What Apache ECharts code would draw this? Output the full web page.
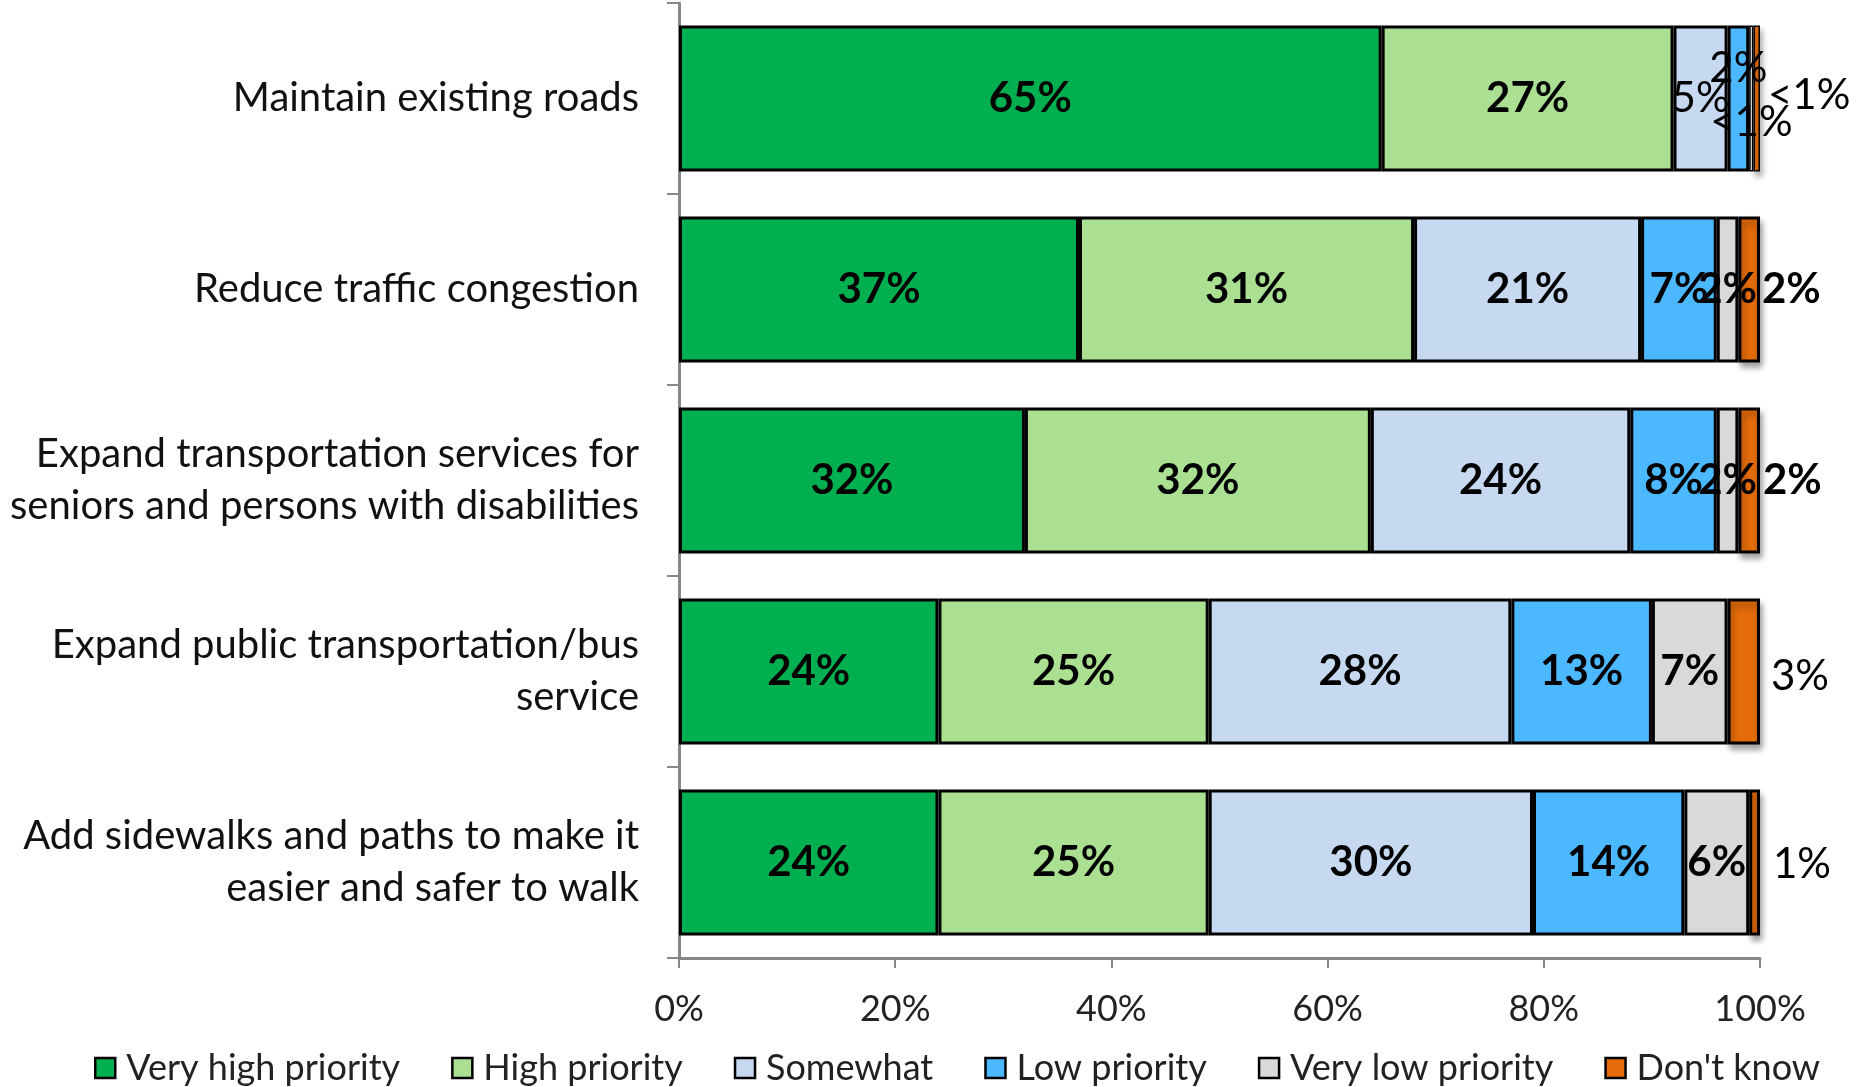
<!DOCTYPE html>
<html>
<head>
<meta charset="utf-8">
<script src="https://cdn.jsdelivr.net/npm/echarts@6/dist/echarts.min.js"></script>
<style>
html,body{margin:0;padding:0;background:#fff;}
#chart{width:1867px;height:1087px;}
</style>
</head>
<body>
<div id="chart"></div>
<script>
// ---- data ----
const categories = [
  'Maintain existing roads',
  'Reduce traffic congestion',
  'Expand transportation services for\nseniors and persons with disabilities',
  'Expand public transportation/bus\nservice',
  'Add sidewalks and paths to make it\neasier and safer to walk'
];
const seriesNames = ['Very high priority', 'High priority', 'Somewhat', 'Low priority', 'Very low priority', "Don't know"];
const veryHigh = [65, 37, 32, 24, 24];
const high     = [27, 31, 32, 25, 25];
const somewhat = [5, 21, 24, 28, 30];
const low      = [2, 7, 8, 13, 14];
const veryLow  = [0.4, 2, 2, 7, 6];
const dontKnow = [0.6, 2, 2, 3, 1];
const veryHighLabels = ['65%', '37%', '32%', '24%', '24%'];
const highLabels     = ['27%', '31%', '32%', '25%', '25%'];
const somewhatLabels = ['5%', '21%', '24%', '28%', '30%'];
const lowLabels      = ['2%', '7%', '8%', '13%', '14%'];
const veryLowLabels  = ['<1%', '2%', '2%', '7%', '6%'];
const dontKnowLabels = ['<1%', '2%', '2%', '3%', '1%'];
const xTicks = [0, 20, 40, 60, 80, 100];

// ---- styles ----
const colors = ['#00B050', '#ABE092', '#C6D9F1', '#4BB8FF', '#D9D9D9', '#E46C0A'];
const FONT = 'Lato';
const labelOverrides = {
  2: {0: {fontWeight: 'normal'}},
  3: {0: {fontWeight: 'normal', offset: [0, -30]}},
  4: {0: {fontWeight: 'normal', offset: [0, 24]}},
  5: {0: {fontWeight: 'normal', offset: [0, -3], distance: 8},
      1: {fontWeight: 'bold', distance: 2},
      2: {fontWeight: 'bold', distance: 3},
      3: {fontWeight: 'normal', distance: 11, offset: [0, 5]},
      4: {fontWeight: 'normal', distance: 13, offset: [0, 2]}}
};
const itemOverrides = {
  4: {0: {borderWidth: 1.5}},
  5: {0: {borderWidth: 1.5}}
};

const values = [veryHigh, high, somewhat, low, veryLow, dontKnow];
const labelTexts = [veryHighLabels, highLabels, somewhatLabels, lowLabels, veryLowLabels, dontKnowLabels];

const series = seriesNames.map((name, si) => {
  const isLast = si === seriesNames.length - 1;
  return {
    name: name,
    type: 'bar',
    stack: 'total',
    barCategoryGap: '23.5%',
    itemStyle: Object.assign({color: colors[si], borderColor: '#000', borderWidth: 3},
      isLast ? {shadowColor: 'rgba(0,0,0,0.35)', shadowBlur: 6, shadowOffsetX: 2, shadowOffsetY: 5} : {}),
    label: {
      show: true,
      position: isLast ? 'right' : 'inside',
      color: '#000',
      fontFamily: FONT,
      fontSize: 42,
      fontWeight: isLast ? 'normal' : 'bold',
      formatter: p => labelTexts[si][p.dataIndex]
    },
    emphasis: {disabled: true},
    data: values[si].map((v, i) => {
      const item = {value: v};
      const lo = labelOverrides[si] && labelOverrides[si][i];
      const io = itemOverrides[si] && itemOverrides[si][i];
      if (lo) item.label = lo;
      if (io) item.itemStyle = io;
      return item;
    })
  };
});

const chart = echarts.init(document.getElementById('chart'), null, {renderer: 'canvas'});
chart.setOption({
  animation: false,
  backgroundColor: '#fff',
  grid: {left: 679, right: 107, top: 3, bottom: 129, containLabel: false, outerBoundsMode: 'none'},
  legend: {
    data: seriesNames,
    left: 89,
    top: 1045,
    itemWidth: 20,
    itemHeight: 20,
    itemGap: 51,
    icon: 'rect',
    itemStyle: {borderColor: '#000', borderWidth: 2.5},
    textStyle: {fontFamily: FONT, fontSize: 36, color: '#222', padding: [0, 0, 0, 6]}
  },
  xAxis: {
    type: 'value',
    min: 0,
    max: 100,
    interval: 20,
    splitLine: {show: false},
    axisLine: {show: true, lineStyle: {color: '#888', width: 3}},
    axisTick: {show: true, length: 10, lineStyle: {color: '#888', width: 2}},
    axisLabel: {
      margin: 33,
      fontFamily: FONT,
      fontSize: 36,
      color: '#222',
      formatter: v => (xTicks.indexOf(v) >= 0 ? v + '%' : '')
    }
  },
  yAxis: {
    type: 'category',
    inverse: true,
    data: categories,
    axisLine: {show: true, lineStyle: {color: '#888', width: 3}},
    axisTick: {show: true, length: 12, lineStyle: {color: '#888', width: 2}},
    axisLabel: {
      margin: 40,
      fontFamily: FONT,
      fontSize: 40,
      lineHeight: 52,
      color: '#111',
      align: 'right'
    }
  },
  series: series
});
</script>
</body>
</html>
